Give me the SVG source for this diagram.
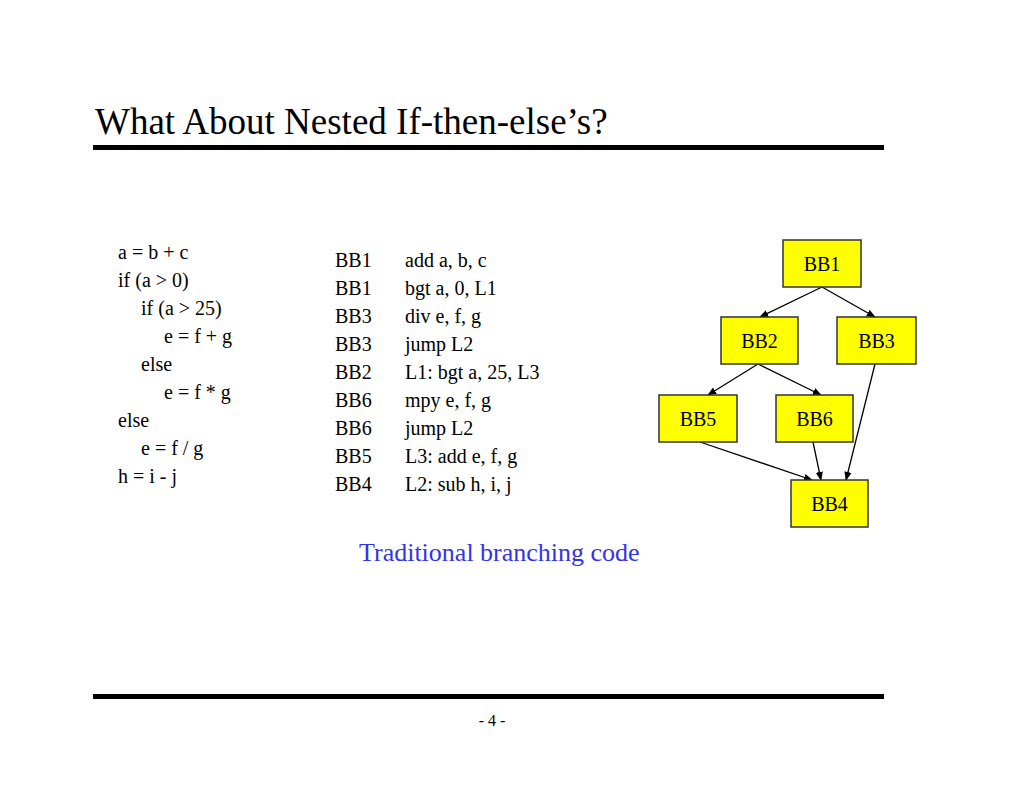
<svg xmlns="http://www.w3.org/2000/svg" width="1024" height="791" viewBox="0 0 1024 791">
<defs>
<style>
text{font-family:"Liberation Serif","Times New Roman",serif;fill:#000}
.c{font-size:20px}
.n rect{fill:#ffff00;stroke:#333;stroke-width:1.5}
.n text{font-size:20px;text-anchor:middle}
.e line{stroke:#000;stroke-width:1.3;marker-end:url(#a)}
</style>
<marker id="a" viewBox="0 0 10 10" refX="9" refY="5" markerWidth="7" markerHeight="7" orient="auto"><path d="M0,1L10,5L0,9z" fill="#000"/></marker>
</defs>
<rect width="1024" height="791" fill="#fff"/>
<text x="95" y="134" font-size="37">What About Nested If-then-else’s?</text>
<rect x="93" y="145" width="791" height="5" fill="#000"/>
<rect x="93" y="694" width="791" height="5" fill="#000"/>
<text x="492" y="726" font-size="16" text-anchor="middle">- 4 -</text>
<g class="c">
<text x="118" y="259">a = b + c</text>
<text x="118" y="287">if (a &gt; 0)</text>
<text x="141" y="315">if (a &gt; 25)</text>
<text x="164" y="343">e = f + g</text>
<text x="141" y="371">else</text>
<text x="164" y="399">e = f * g</text>
<text x="118" y="427">else</text>
<text x="141" y="455">e = f / g</text>
<text x="118" y="483">h = i - j</text>
</g>
<g class="c">
<text x="335" y="267">BB1</text><text x="405" y="267">add a, b, c</text>
<text x="335" y="295">BB1</text><text x="405" y="295">bgt a, 0, L1</text>
<text x="335" y="323">BB3</text><text x="405" y="323">div e, f, g</text>
<text x="335" y="351">BB3</text><text x="405" y="351">jump L2</text>
<text x="335" y="379">BB2</text><text x="405" y="379">L1: bgt a, 25, L3</text>
<text x="335" y="407">BB6</text><text x="405" y="407">mpy e, f, g</text>
<text x="335" y="435">BB6</text><text x="405" y="435">jump L2</text>
<text x="335" y="463">BB5</text><text x="405" y="463">L3: add e, f, g</text>
<text x="335" y="491">BB4</text><text x="405" y="491">L2: sub h, i, j</text>
</g>
<text x="359" y="561" font-size="26" style="fill:#3333ee">Traditional branching code</text>
<g class="e">
<line x1="822" y1="287" x2="760" y2="317"/>
<line x1="822" y1="287" x2="875" y2="317"/>
<line x1="758" y1="364" x2="708" y2="395"/>
<line x1="758" y1="364" x2="821" y2="395"/>
<line x1="700" y1="442" x2="812" y2="480"/>
<line x1="813" y1="442" x2="821" y2="480"/>
<line x1="875" y1="364" x2="846" y2="480"/>
</g>
<g class="n" id="BB1"><rect x="783" y="240" width="78" height="47"/><text x="822" y="271">BB1</text></g>
<g class="n" id="BB2"><rect x="721" y="317" width="77" height="47"/><text x="759.5" y="348">BB2</text></g>
<g class="n" id="BB3"><rect x="837" y="317" width="79" height="47"/><text x="876.5" y="348">BB3</text></g>
<g class="n" id="BB5"><rect x="659" y="395" width="78" height="47"/><text x="698" y="426">BB5</text></g>
<g class="n" id="BB6"><rect x="776" y="395" width="77" height="47"/><text x="814.5" y="426">BB6</text></g>
<g class="n" id="BB4"><rect x="791" y="480" width="77" height="47"/><text x="829.5" y="511">BB4</text></g>
</svg>
